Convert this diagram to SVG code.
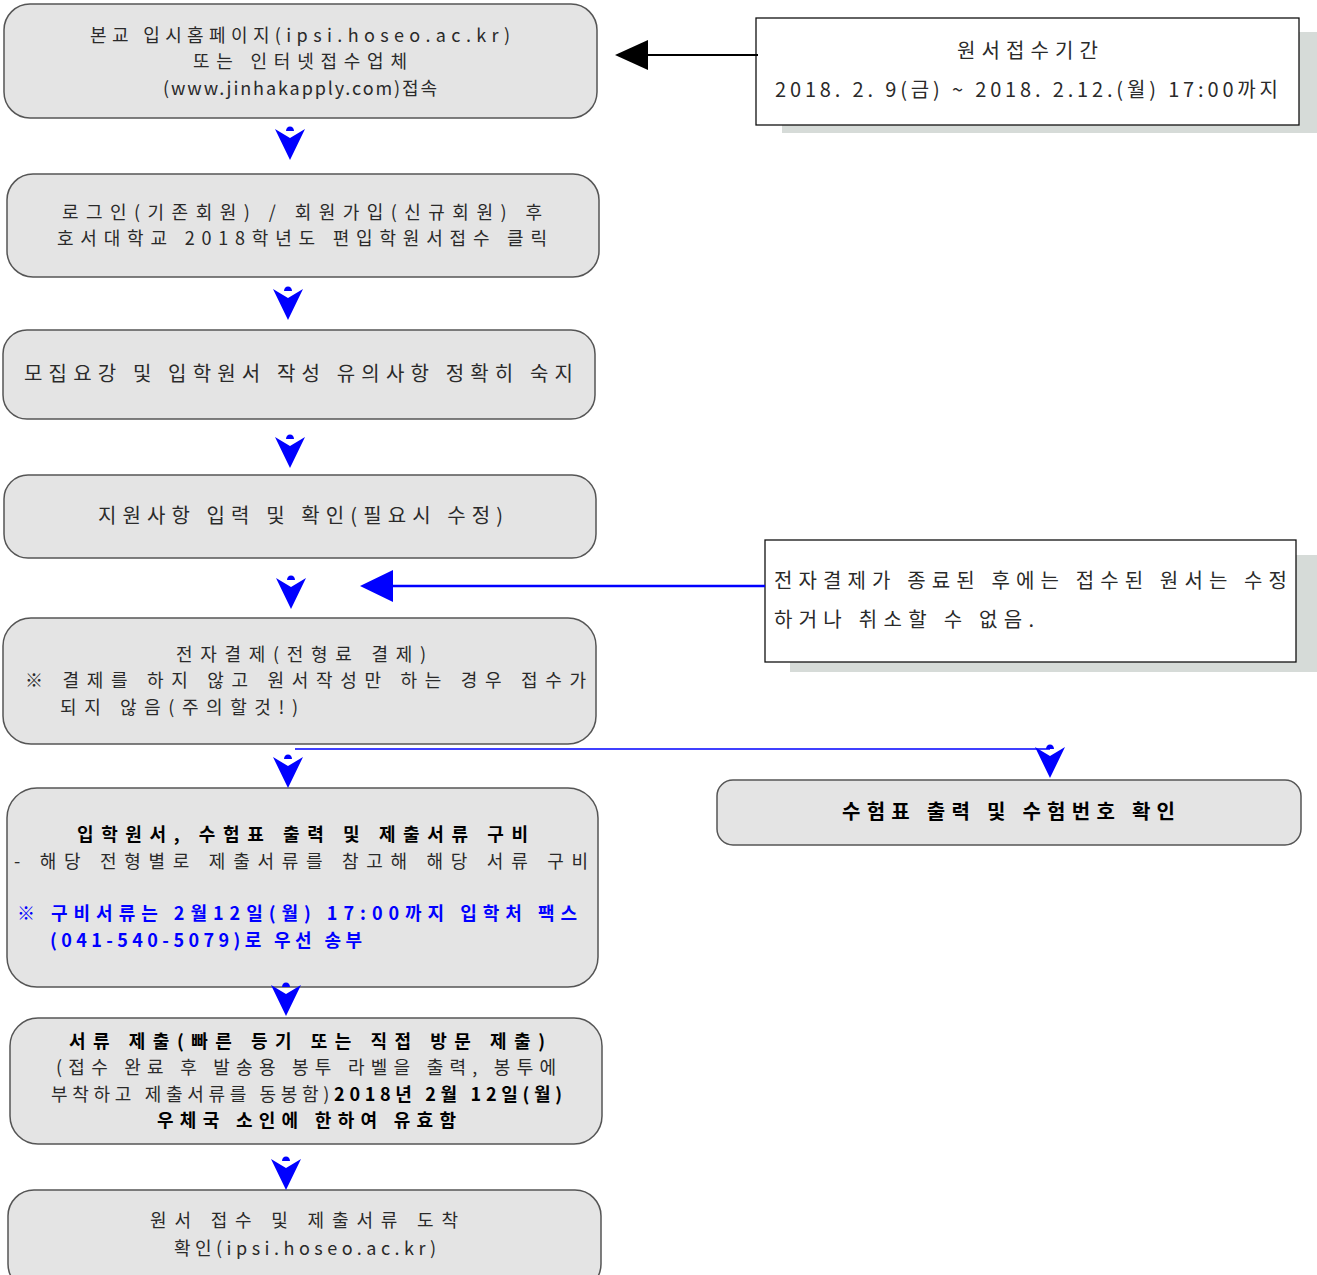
<svg xmlns="http://www.w3.org/2000/svg" xmlns:xlink="http://www.w3.org/1999/xlink" width="1317" height="1275" viewBox="0 0 1317 1275">
<style>
.box{fill:#e4e4e4;stroke:#555;stroke-width:1.5}
.note{fill:#fff;stroke:#111;stroke-width:1.3}
.shadow{fill:#d6dbd8}
text{font-family:"Noto Sans CJK KR","Noto Sans",sans-serif;font-size:18px;fill:#2a2a2a}
.big{font-size:20px}
.b{font-weight:700;fill:#000}
.blue{font-weight:700;fill:#0000ff}
</style>
<defs>
<g id="arr">
<path d="M-4,5 A4,4.5 0 0 1 4,5 Z" fill="#0000ff"/>
<polygon points="-15,3 0,12 15,3 0,34" fill="#0000ff"/>
</g>
</defs>
<rect width="1317" height="1275" fill="#fff"/>

<g id="node-start">
<rect class="box" x="4" y="4" width="593" height="114" rx="26"/>
<text x="90" y="41.5" textLength="420" lengthAdjust="spacing">본교 입시홈페이지(ipsi.hoseo.ac.kr)</text>
<text x="193" y="67.5" textLength="214" lengthAdjust="spacing">또는 인터넷접수업체</text>
<text x="163" y="94.5" textLength="274" lengthAdjust="spacing">(www.jinhakapply.com)접속</text>
</g>

<g id="node-login">
<rect class="box" x="7" y="174" width="592" height="103" rx="26"/>
<text x="62" y="218.5" textLength="480" lengthAdjust="spacing">로그인(기존회원) / 회원가입(신규회원) 후</text>
<text x="57" y="244.5" textLength="490" lengthAdjust="spacing">호서대학교 2018학년도 편입학원서접수 클릭</text>
</g>

<g id="node-guide">
<rect class="box" x="3" y="330" width="592" height="89" rx="24"/>
<text class="big" x="24" y="381" textLength="549" lengthAdjust="spacing">모집요강 및 입학원서 작성 유의사항 정확히 숙지</text>
</g>

<g id="node-input">
<rect class="box" x="4" y="475" width="592" height="83" rx="24"/>
<text class="big" x="98" y="523" textLength="405" lengthAdjust="spacing">지원사항 입력 및 확인(필요시 수정)</text>
</g>

<g id="node-pay">
<rect class="box" x="3" y="618" width="593" height="126" rx="28"/>
<text x="176" y="660.5" textLength="250" lengthAdjust="spacing">전자결제(전형료 결제)</text>
<text x="25" y="686.5" textLength="561" lengthAdjust="spacing">※ 결제를 하지 않고 원서작성만 하는 경우 접수가</text>
<text x="60" y="713.5" textLength="238" lengthAdjust="spacing">되지 않음(주의할것!)</text>
</g>

<g id="node-docs">
<rect class="box" x="7" y="788" width="591" height="199" rx="30"/>
<text class="b" x="77" y="840.5" textLength="451" lengthAdjust="spacing">입학원서, 수험표 출력 및 제출서류 구비</text>
<text x="14" y="867.5" textLength="574" lengthAdjust="spacing">- 해당 전형별로 제출서류를 참고해 해당 서류 구비</text>
<text class="blue" x="17" y="919.5" textLength="560" lengthAdjust="spacing">※ 구비서류는 2월12일(월) 17:00까지 입학처 팩스</text>
<text class="blue" x="50" y="946.5" textLength="312" lengthAdjust="spacing">(041-540-5079)로 우선 송부</text>
</g>

<g id="node-submit">
<rect class="box" x="10" y="1018" width="592" height="126" rx="28"/>
<text class="b" x="69" y="1047.5" textLength="476" lengthAdjust="spacing">서류 제출(빠른 등기 또는 직접 방문 제출)</text>
<text x="56" y="1073.5" textLength="500" lengthAdjust="spacing">(접수 완료 후 발송용 봉투 라벨을 출력, 봉투에</text>
<text x="51" y="1100.5" textLength="511" lengthAdjust="spacing">부착하고 제출서류를 동봉함)<tspan class="b">2018년 2월 12일(월)</tspan></text>
<text class="b" x="157" y="1126.5" textLength="299" lengthAdjust="spacing">우체국 소인에 한하여 유효함</text>
</g>

<g id="node-confirm">
<rect class="box" x="8" y="1190" width="593" height="100" rx="26"/>
<text x="150" y="1226.5" textLength="308" lengthAdjust="spacing">원서 접수 및 제출서류 도착</text>
<text x="174" y="1254.5" textLength="262" lengthAdjust="spacing">확인(ipsi.hoseo.ac.kr)</text>
</g>

<g id="node-period">
<rect class="shadow" x="782" y="32" width="535" height="101"/>
<rect class="note" x="756" y="18" width="543" height="107"/>
<text class="big" x="957" y="58" textLength="141" lengthAdjust="spacing">원서접수기간</text>
<text class="big" x="775" y="97" textLength="503" lengthAdjust="spacing">2018. 2. 9(금) ~ 2018. 2.12.(월) 17:00까지</text>
</g>

<g id="node-warning">
<rect class="shadow" x="790" y="555" width="527" height="117"/>
<rect class="note" x="765" y="540" width="531" height="122"/>
<text class="big" x="774" y="588" textLength="513" lengthAdjust="spacing">전자결제가 종료된 후에는 접수된 원서는 수정</text>
<text class="big" x="774" y="627" textLength="260" lengthAdjust="spacing">하거나 취소할 수 없음.</text>
</g>

<g id="node-ticket">
<rect class="box" x="717" y="780" width="584" height="65" rx="16"/>
<text class="b big" x="842" y="819" textLength="333" lengthAdjust="spacing">수험표 출력 및 수험번호 확인</text>
</g>

<g id="connectors">
<line x1="648" y1="55" x2="758" y2="55" stroke="#000" stroke-width="2"/>
<polygon points="615,55 648,40 648,70" fill="#000"/>
<line x1="392" y1="586" x2="765" y2="586" stroke="#0000ff" stroke-width="2.5"/>
<polygon points="360,586 393,570 393,602" fill="#0000ff"/>
<line x1="295" y1="749" x2="1050" y2="749" stroke="#0000ff" stroke-width="1.5"/>
<use href="#arr" xlink:href="#arr" transform="translate(290,126)"/>
<use href="#arr" xlink:href="#arr" transform="translate(288,286)"/>
<use href="#arr" xlink:href="#arr" transform="translate(290,434)"/>
<use href="#arr" xlink:href="#arr" transform="translate(291,575)"/>
<use href="#arr" xlink:href="#arr" transform="translate(288,754)"/>
<use href="#arr" xlink:href="#arr" transform="translate(286,982)"/>
<use href="#arr" xlink:href="#arr" transform="translate(286,1156)"/>
<use href="#arr" xlink:href="#arr" transform="translate(1050,744)"/>
</g>
</svg>
